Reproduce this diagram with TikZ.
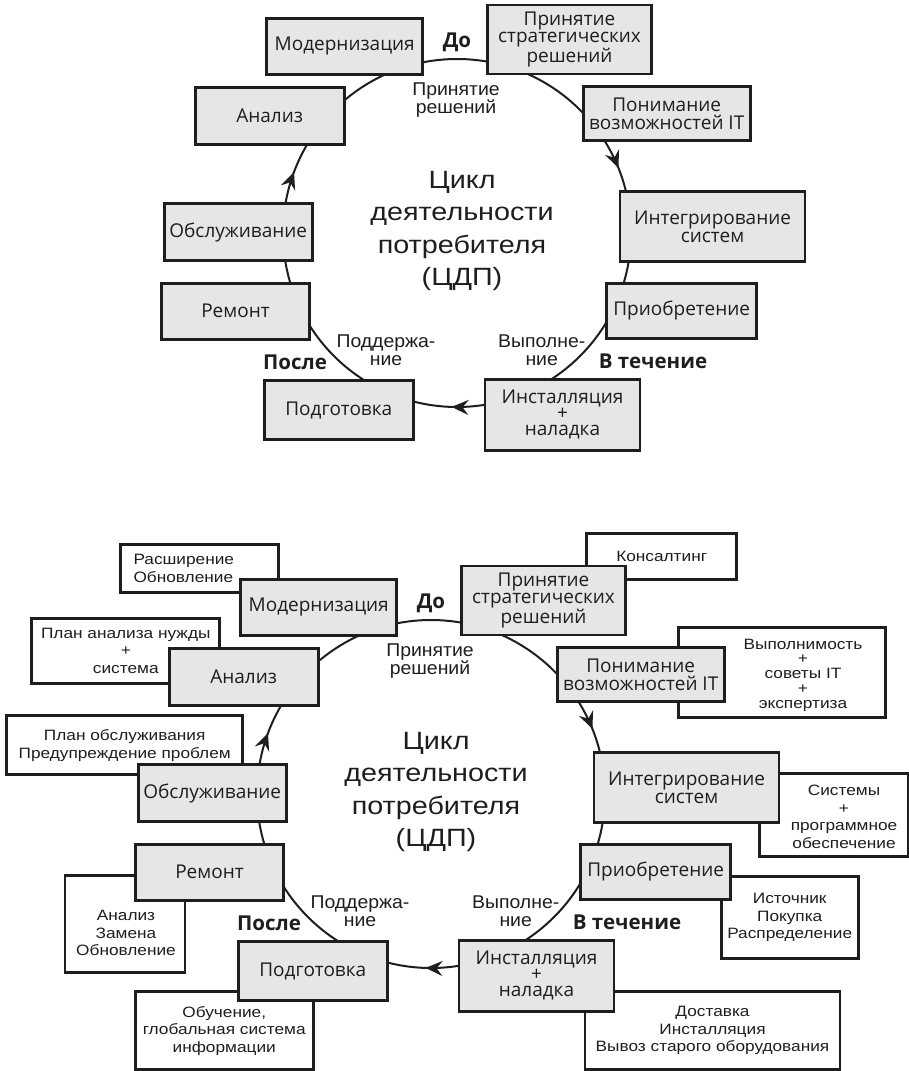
\documentclass[tikz,border=0pt]{standalone}
\usepackage{fontspec}
\setmainfont{Liberation Sans}
\newfontfamily\stagefont{Open Sans}
\newfontfamily\notefont[FakeStretch=1.15]{Liberation Sans}
\newfontfamily\tagfont[FakeStretch=1.05]{Liberation Sans}
\usetikzlibrary{arrows.meta,decorations.markings}
\definecolor{stagefill}{RGB}{230,230,230}
\definecolor{ink}{RGB}{30,30,30}
\tikzset{
  stage/.style={rectangle,draw=ink,line width=2.7pt,fill=stagefill,
                align=center,text=ink,inner sep=0pt,
                font=\stagefont\fontsize{19}{17.5}\selectfont},
  notetxt/.style={align=center,text=ink,inner sep=0pt,
                  font=\notefont\fontsize{15}{17.5}\selectfont},
  note/.style={notetxt,rectangle,draw=ink,line width=2.7pt,fill=white},
  tag/.style={align=center,text=ink,inner sep=0pt,
              font=\tagfont\fontsize{18.5}{17.5}\selectfont},
  phaselbl/.style={text=ink,inner sep=0pt,
                   font=\stagefont\bfseries\fontsize{20.5}{22}\selectfont},
  cycletitle/.style={align=center,text=ink,inner sep=0pt,
                     font=\notefont\fontsize{25}{32.4}\selectfont},
  cyc/.style={draw=ink,line width=2pt,postaction={decorate},
              decoration={markings,
                mark=at position 0.255 with {\arrow{Stealth[length=17pt,width=15pt,inset=6pt]}},
                mark=at position 0.557 with {\arrow{Stealth[length=17pt,width=15pt,inset=6pt]}},
                mark=at position 0.939 with {\arrow{Stealth[length=17pt,width=15pt,inset=6pt]}}}},
}

% one cycle, #1 = prefix of the node names
\newcommand{\cdpcycle}[1]{%
  \coordinate (#1c) at (457,233);
  \draw[cyc] (#1c) circle[radius=174];

  \node[stage,minimum width=156pt,minimum height=56pt] (#1mod)   at (344.7,46.2)  {Модернизация};
  \node[stage,minimum width=164pt,minimum height=69pt] (#1prin)  at (569.5,39.5)  {Принятие\\стратегических\\решений};
  \node[stage,minimum width=149pt,minimum height=57pt] (#1anal)  at (269.7,115.7) {Анализ};
  \node[stage,minimum width=167pt,minimum height=54pt] (#1pon)   at (666.7,113.7) {Понимание\\возможностей IT};
  \node[stage,minimum width=148pt,minimum height=57pt] (#1obs)   at (238.2,232.3) {Обслуживание};
  \node[stage,minimum width=185pt,minimum height=70pt] (#1integ) at (712.5,226.7) {Интегрирование\\систем};
  \node[stage,minimum width=148pt,minimum height=56pt] (#1rem)   at (235.5,311.3) {Ремонт};
  \node[stage,minimum width=150pt,minimum height=55pt] (#1priob) at (681.7,310.8) {Приобретение};
  \node[stage,minimum width=149pt,minimum height=59pt] (#1podg)  at (338.8,410)   {Подготовка};
  \node[stage,minimum width=155pt,minimum height=71pt,
        font=\stagefont\fontsize{19}{16.2}\selectfont] (#1inst) at (562.5,414.7) {Инсталляция\\+\\наладка};

  \node[phaselbl] (#1before) at (457,42)    {До};
  \node[phaselbl] (#1after)  at (295,362.5) {После};
  \node[phaselbl] (#1during) at (653,361)   {В течение};
  \node[tag] (#1decide)  at (456,100)   {Принятие\\решений};
  \node[tag] (#1support) at (386,350)   {Поддержа-\\ние};
  \node[tag] (#1exec)    at (541.7,350) {Выполне-\\ние};

  \node[cycletitle] (#1title) at (462,231) {Цикл\\деятельности\\потребителя\\(ЦДП)};
}

\begin{document}
\begin{tikzpicture}[x=1pt,y=-1pt]
  \useasboundingbox (0,0) rectangle (909,1071);

  % upper cycle
  \cdpcycle{t}

  % lower cycle with notes
  \node[note,minimum width=158pt,minimum height=48pt,text width=132pt,align=left]
    (ext) at (199.5,568.5) {Расширение\\Обновление};
  \node[note,minimum width=150pt,minimum height=46pt] (consult) at (661.7,556.2) {Консалтинг};
  \node[note,minimum width=188pt,minimum height=65pt] (needs)   at (125.8,650.8) {План анализа нужды\\+\\система};
  \node[note,minimum width=207pt,minimum height=90pt] (feas)    at (781.7,672.3) {};
  \node[notetxt,font=\notefont\fontsize{15}{14.7}\selectfont]
    (feas-txt) at (803,675) {Выполнимость\\+\\советы IT\\+\\экспертиза};
  \node[note,minimum width=236pt,minimum height=59pt] (upkeep)  at (124.7,745.3) {План обслуживания\\Предупреждение проблем};
  \node[note,minimum width=149pt,minimum height=83pt] (soft)    at (833.8,814.7) {};
  \node[notetxt] (soft-txt) at (844,817) {Системы\\+\\программное\\обеспечение};
  \node[note,minimum width=120pt,minimum height=97pt] (fix)     at (125,924.3) {};
  \node[notetxt] (fix-txt) at (126,933) {Анализ\\Замена\\Обновление};
  \node[note,minimum width=137pt,minimum height=82pt] (source)  at (789.7,917.5) {Источник\\Покупка\\Распределение};
  \node[note,minimum width=178pt,minimum height=78pt] (train)   at (224.2,1030.8) {Обучение,\\глобальная система\\информации};
  \node[note,minimum width=255pt,minimum height=78pt] (deliv)   at (712.5,1030.5) {Доставка\\Инсталляция\\Вывоз старого оборудования};

  \begin{scope}[shift={(-26,561)}]
    \cdpcycle{b}
  \end{scope}
\end{tikzpicture}
\end{document}
